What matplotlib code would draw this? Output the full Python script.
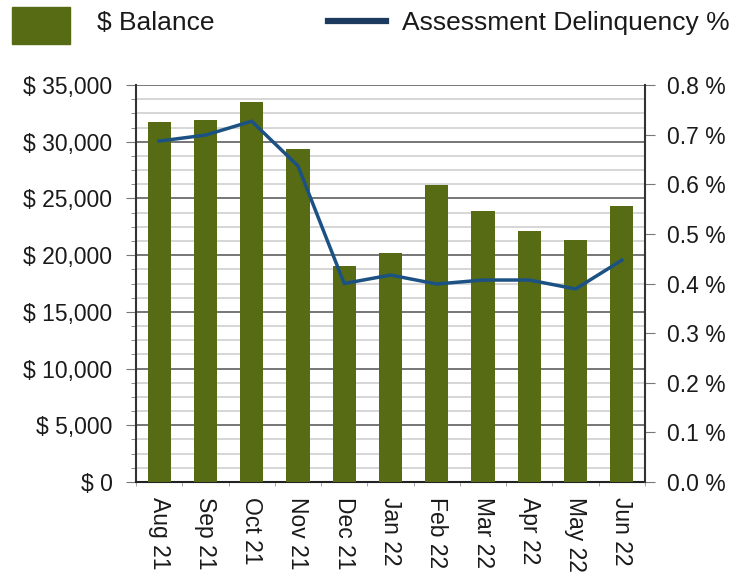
import numpy as np
import matplotlib
matplotlib.use('Agg')
import matplotlib.pyplot as plt
from matplotlib.ticker import MultipleLocator, FuncFormatter
from matplotlib.patches import Rectangle
from matplotlib.lines import Line2D

plt.rcParams['font.family'] = ['Liberation Sans', 'DejaVu Sans']

# data
months = ['Aug 21', 'Sep 21', 'Oct 21', 'Nov 21', 'Dec 21', 'Jan 22',
          'Feb 22', 'Mar 22', 'Apr 22', 'May 22', 'Jun 22']
balance = [31700, 31900, 33500, 29400, 19000, 20200,
           26200, 23900, 22150, 21300, 24300]
delinquency = [0.687, 0.699, 0.727, 0.637, 0.400, 0.417,
               0.399, 0.407, 0.407, 0.389, 0.447]

bar_color = '#566b14'
line_color = '#1b5283'
text_color = '#1a1a1a'

fig = plt.figure(figsize=(7.3, 5.76), dpi=100)
ax = fig.add_axes([136/730, 1 - 482/576, 509/730, 397/576])

x = np.arange(len(months))
ax.bar(x, balance, width=0.5, color=bar_color, zorder=3)
ax.set_xlim(-0.5, len(months) - 0.5)
ax.set_ylim(0, 35000)

# gridlines: dark every 5000, light every 1250
ax.yaxis.set_major_locator(MultipleLocator(5000))
ax.yaxis.set_minor_locator(MultipleLocator(1250))
ax.grid(which='major', axis='y', color='#6b6b6b', linewidth=1.3, zorder=0)
ax.grid(which='minor', axis='y', color='#d3d3d3', linewidth=1.3, zorder=0)
ax.yaxis.set_major_formatter(FuncFormatter(lambda v, p: '$ {:,.0f}'.format(v)))
ax.tick_params(axis='y', which='major', direction='out', length=7,
               color='#777777', labelsize=16.5, labelcolor=text_color, pad=10)
ax.tick_params(axis='y', which='minor', direction='out', length=3.5,
               color='#777777')

ax.set_xticks(x)
ax.set_xticklabels(months, rotation=-90, fontsize=16.5, color=text_color)
ax.set_xticks(np.arange(len(months) + 1) - 0.5, minor=True)
ax.tick_params(axis='x', which='major', length=0, pad=11)
ax.tick_params(axis='x', which='minor', length=3, color='#999999')

ax.spines['top'].set_visible(False)
ax.spines['right'].set_visible(False)
ax.spines['left'].set_color('#333333')
ax.spines['left'].set_linewidth(1.5)
ax.spines['bottom'].set_color('#222222')
ax.spines['bottom'].set_linewidth(1.5)

ax2 = ax.twinx()
ax2.plot(x, delinquency, color=line_color, linewidth=2.5, zorder=5)
ax2.set_ylim(0, 0.8)
ax2.yaxis.set_major_locator(MultipleLocator(0.1))
ax2.yaxis.set_major_formatter(FuncFormatter(lambda v, p: '{:.1f} %'.format(v)))
ax2.tick_params(axis='y', direction='out', length=7, color='#777777',
                labelsize=16.5, labelcolor=text_color, pad=9)
for s in ['top', 'left', 'bottom']:
    ax2.spines[s].set_visible(False)
ax2.spines['right'].set_color('#333333')
ax2.spines['right'].set_linewidth(1.5)

# legend drawn by hand across the top
fig.patches.append(Rectangle((12/730, 1 - 44/576), 58/730, 37/576,
                             transform=fig.transFigure, color=bar_color))
fig.text(97/730, 1 - 23/576, '$ Balance', fontsize=19, va='center',
         ha='left', color=text_color)
fig.lines.append(Line2D([328/730, 386/730], [1 - 21/576, 1 - 21/576],
                        transform=fig.transFigure, color='#1b3a5e', linewidth=4.5))
fig.text(402/730, 1 - 23/576, 'Assessment Delinquency %', fontsize=19,
         va='center', ha='left', color=text_color)

fig.savefig('out.png', dpi=100)
